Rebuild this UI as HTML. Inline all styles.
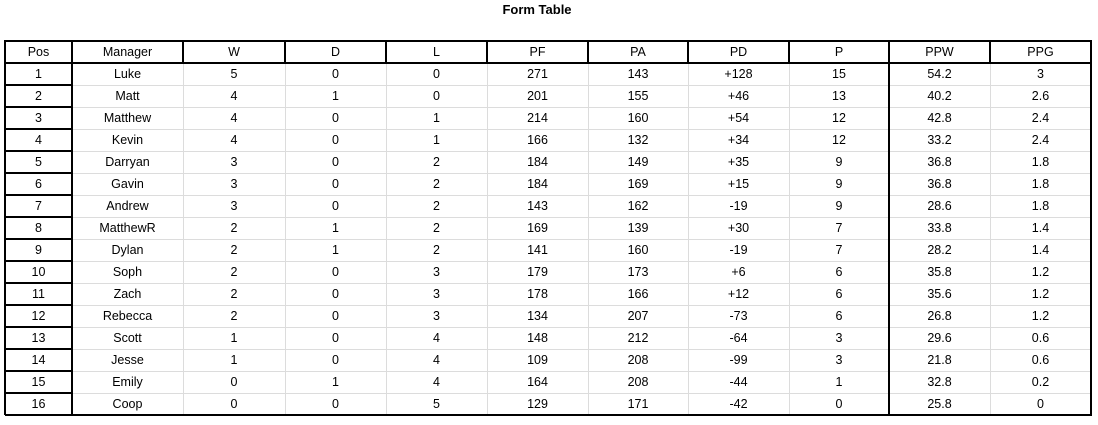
<!DOCTYPE html>
<html><head><meta charset="utf-8"><style>
body{margin:0;width:1098px;height:425px;background:#fff;font-family:"Liberation Sans",Arial,sans-serif;position:relative;overflow:hidden}
.t{position:absolute;left:0;width:1074px;top:2px;text-align:center;font-weight:bold;font-size:13px;color:#000}
.c{position:absolute;text-align:center;font-size:12.5px;color:#000;line-height:23px;height:22px}
.l{position:absolute}
</style></head><body>
<div class="t">Form Table</div>
<div id="tbl"></div>
<script>
const headers=["Pos","Manager","W","D","L","PF","PA","PD","P","PPW","PPG"];
const managers=["Luke","Matt","Matthew","Kevin","Darryan","Gavin","Andrew","MatthewR","Dylan","Soph","Zach","Rebecca","Scott","Jesse","Emily","Coop"];
const wins=[5,4,4,4,3,3,3,2,2,2,2,2,1,1,0,0];
const draws=[0,1,0,0,0,0,0,1,1,0,0,0,0,0,1,0];
const losses=[0,0,1,1,2,2,2,2,2,3,3,3,4,4,4,5];
const pf=[271,201,214,166,184,184,143,169,141,179,178,134,148,109,164,129];
const pa=[143,155,160,132,149,169,162,139,160,173,166,207,212,208,208,171];
const pd=["+128","+46","+54","+34","+35","+15","-19","+30","-19","+6","+12","-73","-64","-99","-44","-42"];
const pts=[15,13,12,12,9,9,9,7,7,6,6,6,3,3,1,0];
const ppw=["54.2","40.2","42.8","33.2","36.8","36.8","28.6","33.8","28.2","35.8","35.6","26.8","29.6","21.8","32.8","25.8"];
const ppg=["3","2.6","2.4","2.4","1.8","1.8","1.8","1.4","1.4","1.2","1.2","1.2","0.6","0.6","0.2","0"];
const xs=[5,72,183,285,386,487,588,688,789,889,990,1091];
const top0=41,rowH=22,nRows=16;
const tbl=document.getElementById('tbl');
function line(x,y,w,h,c){const d=document.createElement('div');d.className='l';


d.style.cssText=`left:${x}px;top:${y}px;width:${w}px;height:${h}px;background:${c}`;tbl.appendChild(d);}
function cell(txt,ci,ri,name){const d=document.createElement('div');d.className='c';


d.style.left=xs[ci]+'px';d.style.width=(xs[ci+1]-xs[ci])+'px';d.style.top=(top0+ri*rowH)+'px';d.textContent=txt;tbl.appendChild(d);}
const bottom=top0+rowH*(nRows+1);
for(let r=2;r<=nRows;r++)line(xs[1],top0+r*rowH,xs[11]-xs[1],1,'#dcdcdc');
for(let i=2;i<11;i++)if(i!==9)line(xs[i],top0+rowH,1,bottom-top0-rowH,'#dcdcdc');
for(let i=1;i<11;i++)line(xs[i]-1,top0,2,rowH,'#000');
for(let r=2;r<=nRows;r++)line(xs[0],top0+r*rowH-1,xs[1]-xs[0],2,'#000');
line(xs[1]-1,top0,2,bottom-top0,'#000');
line(xs[9]-1,top0,2,bottom-top0,'#000');
line(xs[0],top0+rowH-1,xs[11]-xs[0],2,'#000');
line(xs[0],top0-1,xs[11]-xs[0]+1,2,'#000');
line(xs[0],bottom-1,xs[11]-xs[0]+1,2,'#000');
line(xs[0]-1,top0-1,2,bottom-top0+1,'#000');
line(xs[11]-1,top0-1,2,bottom-top0+1,'#000');
headers.forEach((h,i)=>cell(h,i,0,'header-'+h.toLowerCase()));
for(let r=0;r<nRows;r++){
 const vals=[r+1,managers[r],wins[r],draws[r],losses[r],pf[r],pa[r],pd[r],pts[r],ppw[r],ppg[r]];
 vals.forEach((v,i)=>cell(String(v),i,r+1,'cell-'+headers[i].toLowerCase()));
}
</script>
</body></html>
